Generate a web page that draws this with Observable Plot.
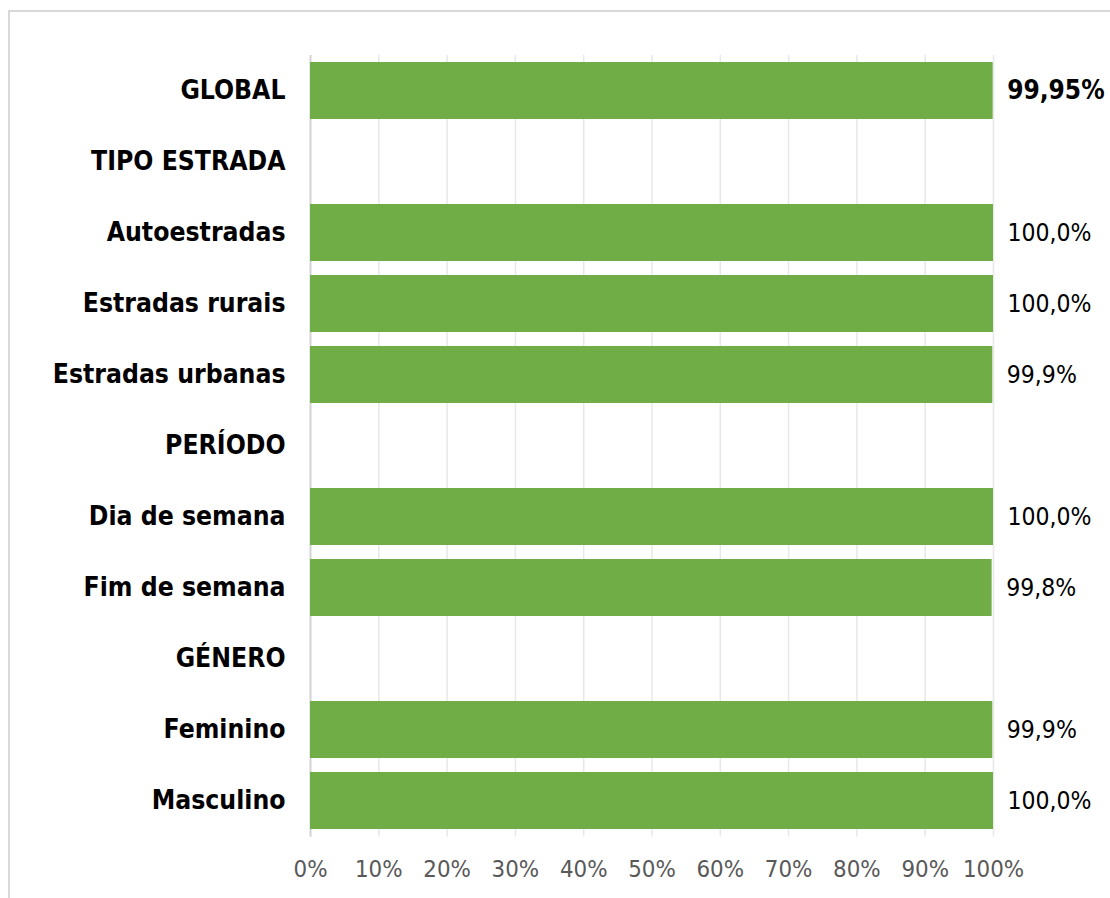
<!DOCTYPE html>
<html>
<head>
<meta charset="utf-8">
<script src="https://cdn.jsdelivr.net/npm/d3@7"></script>
<script src="https://cdn.jsdelivr.net/npm/@observablehq/plot@0.6"></script>
<style>
  html, body { margin: 0; padding: 0; background: #fff; }
  #wrap { position: relative; width: 1110px; height: 898px; overflow: hidden; }
  #frame { position: absolute; left: 8px; top: 10px; width: 1110px; height: 900px;
           border-top: 2px solid #d9d9d9; border-left: 2px solid #d9d9d9; box-sizing: border-box; }
  #chart { position: absolute; left: 0; top: 0; }
  #chart svg { font-family: "DejaVu Sans Condensed", "DejaVu Sans", sans-serif; }
</style>
</head>
<body>
<div id="wrap"><div id="frame"></div><div id="chart"></div></div>
<script>
const categories = ["GLOBAL", "TIPO ESTRADA", "Autoestradas", "Estradas rurais", "Estradas urbanas",
  "PERÍODO", "Dia de semana", "Fim de semana", "GÉNERO", "Feminino", "Masculino"];
const values = [99.95, null, 100.0, 100.0, 99.9, null, 100.0, 99.8, null, 99.9, 100.0];
const decimals = [2, null, 1, 1, 1, null, 1, 1, null, 1, 1];
const xTicks = [0, 10, 20, 30, 40, 50, 60, 70, 80, 90, 100];

const rows = categories.map((c, i) => ({cat: c, value: values[i], dec: decimals[i]}));
const bars = rows.filter(d => d.value != null);
const fmt = d => d.value.toFixed(d.dec).replace(".", ",") + "%";

const chart = Plot.plot({
  width: 1110,
  height: 898,
  marginLeft: 310,
  marginRight: 117,
  marginTop: 55,
  marginBottom: 61.5,
  x: {domain: [0, 100]},
  y: {domain: categories, paddingInner: 0.2, paddingOuter: 0.1},
  marks: [
    Plot.gridX(xTicks, {stroke: "#e8e8e8", strokeOpacity: 1, strokeWidth: 1.5}),
    Plot.ruleX([0], {stroke: "#d6d6d6", strokeWidth: 2}),
    Plot.barX(bars, {y: "cat", x1: 0, x2: "value", fill: "#70AD47"}),
    Plot.text(bars.filter(d => d.cat === "GLOBAL"), {y: "cat", x: "value", text: fmt, dx: 14, textAnchor: "start",
      fontSize: 26, fontWeight: "bold", fill: "#000"}),
    Plot.text(bars.filter(d => d.cat !== "GLOBAL"), {y: "cat", x: "value", text: fmt, dx: 14, textAnchor: "start",
      fontSize: 24.5, fill: "#000"}),
    Plot.axisY({tickSize: 0, tickPadding: 25, fontSize: 26.3, fontWeight: "bold", color: "#000", label: null}),
    Plot.axisX({ticks: xTicks, tickSize: 0, tickPadding: 23, fontSize: 23.8, color: "#595959",
      tickFormat: d => d + "%", label: null})
  ]
});
document.getElementById("chart").appendChild(chart);
</script>
</body>
</html>
